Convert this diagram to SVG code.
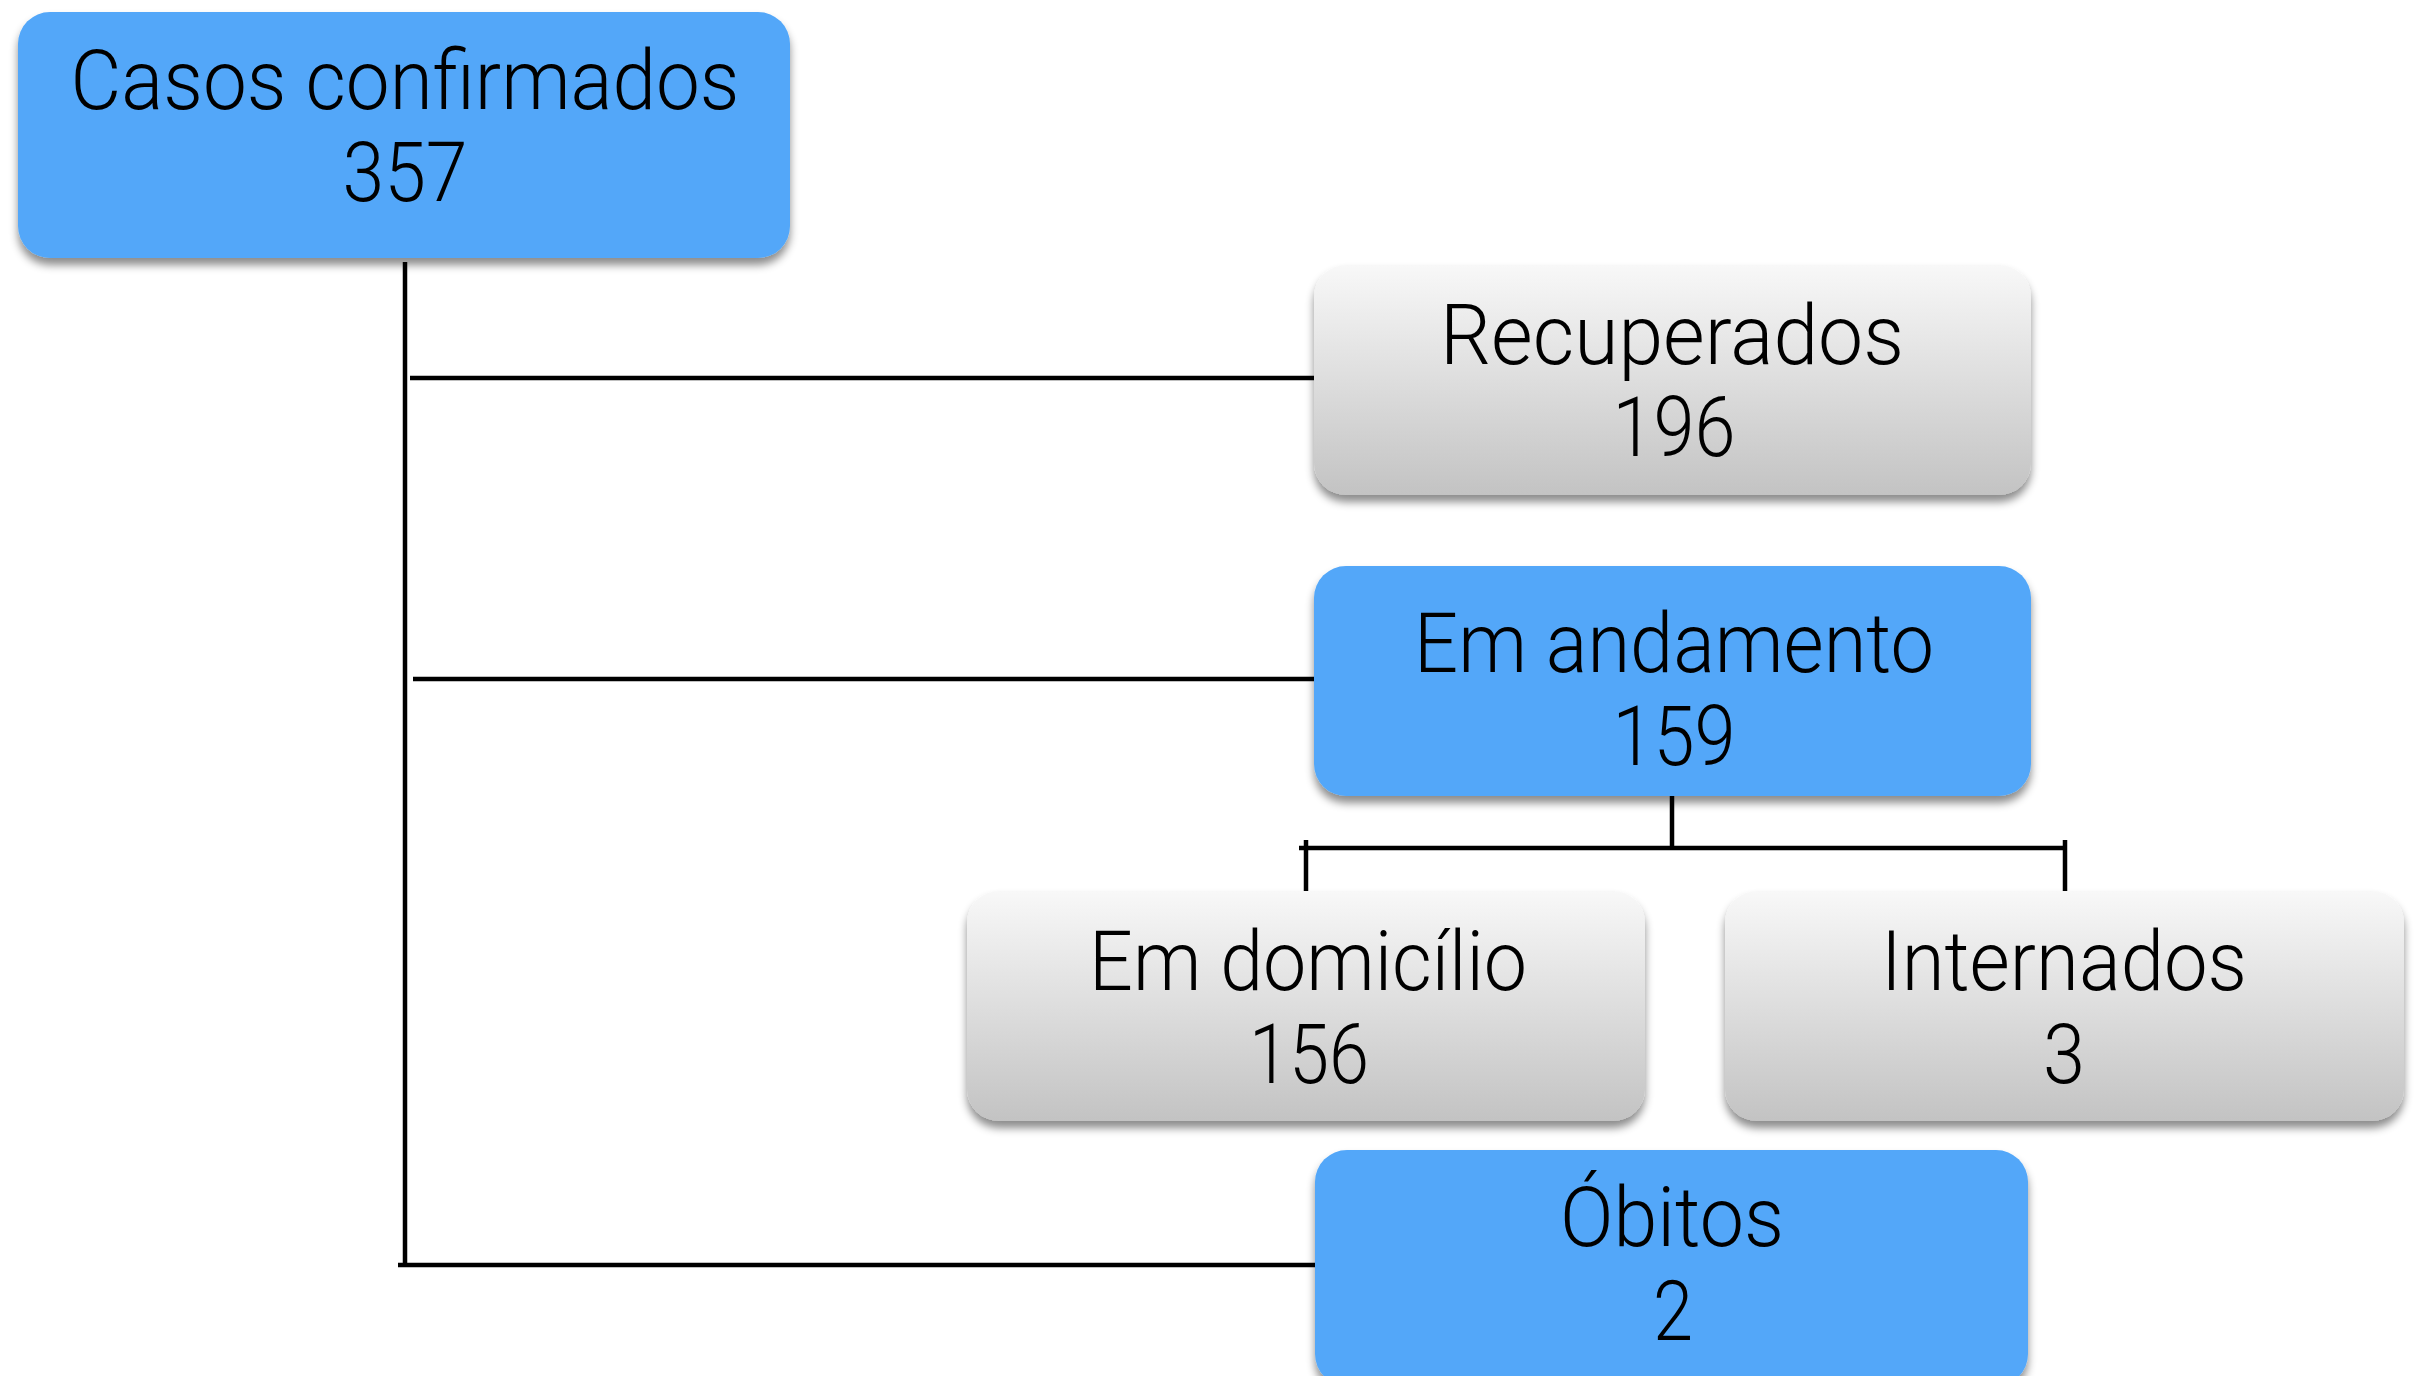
<svg xmlns="http://www.w3.org/2000/svg" width="2418" height="1376" viewBox="0 0 2418 1376">
<style>
.blue{fill:#52a7f9;}
.gray{fill:url(#gg);}
.box{filter:url(#sh);}
text{font-family:"Roboto","Liberation Sans",sans-serif;font-weight:300;font-size:83px;fill:#000;text-anchor:middle;}
.ln{stroke:#000;stroke-width:4.5;fill:none;}
</style>
<defs>
<linearGradient id="gg" x1="0" y1="0" x2="0" y2="1">
<stop offset="0" stop-color="#f8f8f8"/>
<stop offset="1" stop-color="#c3c3c3"/>
</linearGradient>
<filter id="sh" x="-5%" y="-5%" width="110%" height="120%">
<feDropShadow dx="0" dy="7" stdDeviation="4" flood-color="#000" flood-opacity="0.45"/>
</filter>
</defs>
<g id="connectors">
<line class="ln" x1="405" y1="262" x2="405" y2="1267"/>
<line class="ln" x1="410" y1="378" x2="1314" y2="378"/>
<line class="ln" x1="413" y1="679" x2="1314" y2="679"/>
<line class="ln" x1="398" y1="1265" x2="1316" y2="1265" stroke-width="5.5"/>
<line class="ln" x1="1672" y1="792" x2="1672" y2="847"/>
<line class="ln" x1="1299" y1="848" x2="2067" y2="848" stroke-width="5.5"/>
<line class="ln" x1="1306" y1="840" x2="1306" y2="897"/>
<line class="ln" x1="2065" y1="840" x2="2065" y2="897"/>
</g>
<g id="casos">
<rect class="box blue" x="18" y="12" width="772" height="246" rx="32"/>
<text x="405" y="109" textLength="669" lengthAdjust="spacingAndGlyphs">Casos confirmados</text>
<text x="405" y="201" textLength="125" lengthAdjust="spacingAndGlyphs">357</text>
</g>
<g id="recuperados">
<rect class="box gray" x="1314" y="265" width="717" height="230" rx="32"/>
<text x="1672" y="364" textLength="464" lengthAdjust="spacingAndGlyphs">Recuperados</text>
<text x="1674" y="456" textLength="123" lengthAdjust="spacingAndGlyphs">196</text>
</g>
<g id="andamento">
<rect class="box blue" x="1314" y="566" width="717" height="230" rx="32"/>
<text x="1674" y="672" textLength="520" lengthAdjust="spacingAndGlyphs">Em andamento</text>
<text x="1674" y="765" textLength="123" lengthAdjust="spacingAndGlyphs">159</text>
</g>
<g id="domicilio">
<rect class="box gray" x="967" y="891" width="678" height="230" rx="32"/>
<text x="1308" y="990" textLength="438" lengthAdjust="spacingAndGlyphs">Em domicílio</text>
<text x="1309" y="1083" textLength="120" lengthAdjust="spacingAndGlyphs">156</text>
</g>
<g id="internados">
<rect class="box gray" x="1725" y="891" width="679" height="230" rx="32"/>
<text x="2064" y="990" textLength="366" lengthAdjust="spacingAndGlyphs">Internados</text>
<text x="2064" y="1083" textLength="42" lengthAdjust="spacingAndGlyphs">3</text>
</g>
<g id="obitos">
<rect class="box blue" x="1315" y="1150" width="713" height="236" rx="32"/>
<text x="1672" y="1246" textLength="224" lengthAdjust="spacingAndGlyphs">Óbitos</text>
<text x="1673" y="1340" textLength="40" lengthAdjust="spacingAndGlyphs">2</text>
</g>
</svg>
